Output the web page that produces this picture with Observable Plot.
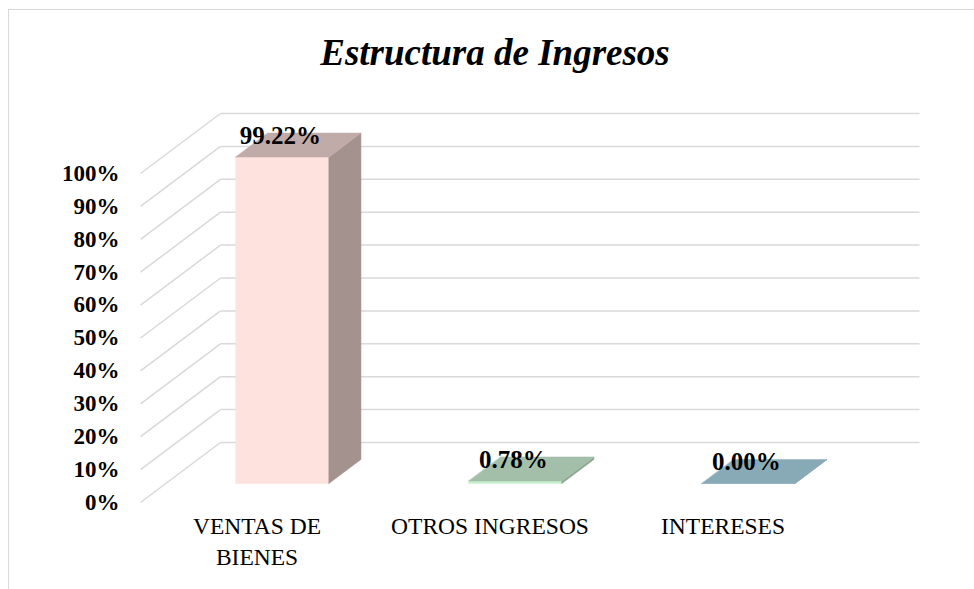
<!DOCTYPE html>
<html>
<head>
<meta charset="utf-8">
<script src="https://cdn.jsdelivr.net/npm/d3@7"></script>
<script src="https://cdn.jsdelivr.net/npm/@observablehq/plot@0.6"></script>
<style>
  html, body { margin: 0; padding: 0; background: #fff; }
  #wrap { position: relative; width: 974px; height: 589px; overflow: hidden; }
  #frame { position: absolute; left: 8px; top: 9px; width: 1100px; height: 700px;
           border: 1.5px solid #d9d9d9; box-sizing: border-box; }
  #title { position: absolute; left: 0; top: 34px; width: 990px; text-align: center;
           font-family: "Liberation Serif", "Times New Roman", serif; font-weight: bold;
           font-style: italic; font-size: 37px; line-height: 37px; color: #000; }
  #chart { position: absolute; left: 0; top: 0; }
</style>
</head>
<body>
<div id="wrap">
  <div id="frame"></div>
  <div id="title">Estructura de Ingresos</div>
  <div id="chart"></div>
</div>
<script>
// ---- data ----
const categories = ["VENTAS DE\nBIENES", "OTROS INGRESOS", "INTERESES"];
const values = [0.9922, 0.0078, 0.0];
const valueLabels = ["99.22%", "0.78%", "0.00%"];
const tickValues = [0, 0.1, 0.2, 0.3, 0.4, 0.5, 0.6, 0.7, 0.8, 0.9, 1.0];
const tickLabels = ["0%", "10%", "20%", "30%", "40%", "50%", "60%", "70%", "80%", "90%", "100%"];
const frontColors = ["#fde2de", "#c6efce", "#a9d3e0"];
const topColors = ["#c1aba8", "#a3bfa9", "#88aab6"];
const sideColors = ["#a4928f", "#8ca792", "#7593a0"];

// ---- oblique 3D projection (depth expressed in scale units) ----
const width = 974, height = 589;
const marginLeft = 140, marginRight = 135, marginTop = 173, marginBottom = 87;
const pxPerCat = (width - marginLeft - marginRight) / categories.length;
const pxPerUnit = (height - marginTop - marginBottom);
const kx = 80 / pxPerCat;   // wall depth, horizontal
const ky = 60 / pxPerUnit;  // wall depth, vertical
const z0 = 0.317, z1 = 0.717, half = 0.2;

const proj = (c, v, z) => ({x: c + z * kx, y: v + z * ky});

const faces = [];
values.forEach((v, i) => {
  const c = i + 0.5, xl = c - half, xr = c + half;
  const add = (id, color, pts) => pts.forEach(p => faces.push({...proj(...p), id: id + i, color}));
  add("front", frontColors[i], [[xl, 0, z0], [xr, 0, z0], [xr, v, z0], [xl, v, z0]]);
  add("side", sideColors[i], [[xr, 0, z0], [xr, 0, z1], [xr, v, z1], [xr, v, z0]]);
  add("top", topColors[i], [[xl, v, z0], [xr, v, z0], [xr, v, z1], [xl, v, z1]]);
});

const labelData = values.map((v, i) => ({...proj(i + 0.5, v, z0), label: valueLabels[i]}));
const catData = categories.map((name, i) => ({x: i + 0.5, name}));
const tickData = tickValues.map((t, i) => ({t, label: tickLabels[i]}));

const grid = "#d9d9d9";
const serif = "Liberation Serif, Times New Roman, serif";

const chart = Plot.plot({
  width, height, marginLeft, marginRight, marginTop, marginBottom,
  x: {domain: [0, categories.length], axis: null},
  y: {domain: [0, 1], axis: null},
  color: {type: "identity"},
  style: {fontFamily: serif, background: "transparent", overflow: "visible"},
  marks: [
    // back wall gridlines
    Plot.link(tickData, {x1: () => kx, x2: () => categories.length + kx,
      y1: d => d.t + ky, y2: d => d.t + ky, stroke: grid, strokeWidth: 1.5}),
    // side wall diagonals
    Plot.link(tickData, {x1: () => 0, y1: d => d.t, x2: () => kx, y2: d => d.t + ky,
      stroke: grid, strokeWidth: 1.5}),
    // bar faces
    Plot.line(faces, {x: "x", y: "y", z: "id", fill: "color", stroke: "color",
      strokeWidth: 0.5, curve: "linear-closed"}),
    // value labels
    Plot.text(labelData, {x: "x", y: "y", text: "label", dx: -2, dy: -21,
      fontSize: 25, fontWeight: "bold", fill: "#000"}),
    // y tick labels
    Plot.text(tickData, {x: () => 0, y: "t", text: "label", dx: -21, textAnchor: "end",
      fontSize: 23, fontWeight: "bold", fill: "#000"}),
    // category labels
    Plot.text(catData, {x: "x", y: () => 0, text: "name", dy: 10, lineAnchor: "top",
      lineHeight: 1.3, fontSize: 23.5, fill: "#000"})
  ]
});
document.getElementById("chart").appendChild(chart);
</script>
</body>
</html>
